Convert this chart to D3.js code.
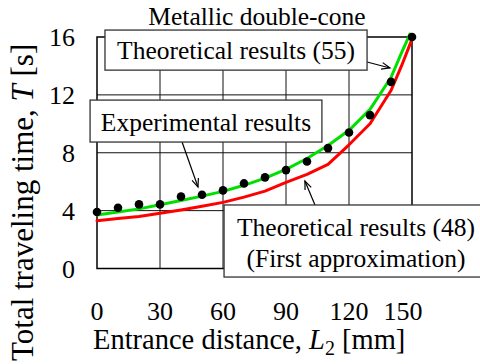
<!DOCTYPE html>
<html>
<head>
<meta charset="utf-8">
<script src="https://cdn.jsdelivr.net/npm/d3@7"></script>
<style>
  body { margin: 0; background: #fff; }
  svg { display: block; }
  svg text { font-family: 'Liberation Serif', 'DejaVu Serif', 'Times New Roman', Times, serif; }
</style>
</head>
<body>
<svg id="chart" width="480" height="364"></svg>
<script>
// measured points, entrance distance L2 [mm] vs total time T [s]
const expL2 = [0, 10, 20, 30, 40, 50, 60, 70, 80, 90, 100, 110, 120, 130, 140, 150];
const expT = [3.9, 4.2, 4.43, 4.43, 4.97, 5.1, 5.4, 5.88, 6.3, 6.8, 7.4, 8.32, 9.4, 10.6, 12.9, 16.0];

// theory (55)
const eq55L2 = [0, 10, 20, 30, 40, 50, 60, 70, 80, 90, 100, 110, 120, 130, 140, 145, 149];
const eq55T = [3.7, 3.9, 4.12, 4.4, 4.7, 5.0, 5.33, 5.75, 6.25, 6.85, 7.6, 8.5, 9.55, 11.0, 13.2, 14.9, 16.2];

// theory (48), first approximation
const eq48L2 = [0, 10, 20, 30, 40, 50, 60, 70, 80, 90, 100, 110, 120, 130, 140, 145, 150];
const eq48T = [3.3, 3.45, 3.6, 3.82, 4.05, 4.3, 4.57, 4.93, 5.35, 5.95, 6.5, 7.2, 8.55, 10.0, 12.3, 14.0, 15.85];

const xTicks = [0, 30, 60, 90, 120, 150];
const yTicks = [0, 4, 8, 12, 16];

const serif = "'Liberation Serif', 'DejaVu Serif', serif";
const svg = d3.select("#chart").attr("font-family", serif);
const pLeft = 97, pRight = 412, pTop = 37, pBottom = 268.5;

const x = d3.scaleLinear().domain([0, 150]).range([pLeft, pRight]);
const y = d3.scaleLinear().domain([0, 16]).range([pBottom, pTop]);

// grid
const grid = svg.append("g").attr("stroke", "#111").attr("stroke-width", 1);
grid.selectAll("line.v").data(xTicks.slice(1, -1)).enter().append("line")
  .attr("x1", d => x(d)).attr("x2", d => x(d)).attr("y1", pTop).attr("y2", pBottom);
grid.selectAll("line.h").data(yTicks.slice(1, -1)).enter().append("line")
  .attr("y1", d => y(d)).attr("y2", d => y(d)).attr("x1", pLeft).attr("x2", pRight);

svg.append("rect")
  .attr("x", pLeft).attr("y", pTop)
  .attr("width", pRight - pLeft).attr("height", pBottom - pTop)
  .attr("fill", "none").attr("stroke", "#000").attr("stroke-width", 1.5);

// curves
const line = d3.line().x(d => x(d[0])).y(d => y(d[1]));
svg.append("path")
  .datum(d3.zip(eq48L2, eq48T))
  .attr("d", line).attr("fill", "none")
  .attr("stroke", "#ff0000").attr("stroke-width", 3)
  .attr("stroke-linecap", "round").attr("stroke-linejoin", "round");
svg.append("path")
  .datum(d3.zip(eq55L2, eq55T))
  .attr("d", line).attr("fill", "none")
  .attr("stroke", "#00e000").attr("stroke-width", 3)
  .attr("stroke-linecap", "round").attr("stroke-linejoin", "round");

svg.selectAll("circle.exp").data(d3.zip(expL2, expT)).enter().append("circle")
  .attr("cx", d => x(d[0])).attr("cy", d => y(d[1])).attr("r", 4.3).attr("fill", "#000");

// tick labels
svg.append("g").selectAll("text").data(yTicks).enter().append("text")
  .attr("x", 75).attr("y", d => y(d)).attr("dy", "0.35em")
  .attr("text-anchor", "end").attr("font-size", 26).text(d => d);

svg.append("g").selectAll("text").data(xTicks).enter().append("text")
  .attr("x", (d, i) => x(d) - (i === xTicks.length - 1 ? 9 : 0)).attr("y", 320)
  .attr("text-anchor", "middle").attr("font-size", 26).text(d => d);

// axis titles
const xt = svg.append("text").attr("x", 93).attr("y", 349).attr("font-size", 28.5);
xt.append("tspan").text("Entrance distance, ");
xt.append("tspan").attr("font-style", "italic").text("L");
xt.append("tspan").attr("font-size", 20).attr("dy", 6).text("2");
xt.append("tspan").attr("dy", -6).text(" [mm]");

const yt = svg.append("text").attr("transform", "translate(33,361) rotate(-90)")
  .attr("text-anchor", "start").attr("font-size", 31);
yt.append("tspan").text("Total traveling time, ");
yt.append("tspan").attr("font-style", "italic").text("T");
yt.append("tspan").text(" [s]");

svg.append("text").attr("x", 257).attr("y", 25).attr("text-anchor", "middle")
  .attr("font-size", 25.5).text("Metallic double-cone");

// callouts, in data units
const callouts = [
  { box: [3.8, 128.6, 16.48, 13.71], lines: ["Theoretical results (55)"], arrow: [128.6, 14.27, 139.5, 13.86] },
  { box: [-3.3, 107.1, 11.64, 8.74], lines: ["Experimental results"], arrow: [40.5, 8.74, 48.1, 5.63] },
  { box: [60.5, 186, 4.39, -0.59], lines: ["Theoretical results (48)", "(First approximation)"], arrow: [103.8, 4.39, 99, 6.05] }
];

const arrowHead = (g, x1, y1, x2, y2) => {
  const a = Math.atan2(y2 - y1, x2 - x1), len = 9, spread = 0.38;
  g.append("path")
    .attr("d", `M${x2 - len * Math.cos(a - spread)},${y2 - len * Math.sin(a - spread)} L${x2},${y2} L${x2 - len * Math.cos(a + spread)},${y2 - len * Math.sin(a + spread)}`)
    .attr("fill", "none").attr("stroke", "#000").attr("stroke-width", 1.2);
};

callouts.forEach(c => {
  const g = svg.append("g");
  const [x0, x1, y0, y1] = [x(c.box[0]), x(c.box[1]), y(c.box[2]), y(c.box[3])];
  const ax1 = x(c.arrow[0]), ay1 = y(c.arrow[1]), ax2 = x(c.arrow[2]), ay2 = y(c.arrow[3]);
  g.append("line").attr("x1", ax1).attr("y1", ay1).attr("x2", ax2).attr("y2", ay2)
    .attr("stroke", "#000").attr("stroke-width", 1.2);
  arrowHead(g, ax1, ay1, ax2, ay2);
  g.append("rect").attr("x", x0).attr("y", y0).attr("width", x1 - x0).attr("height", y1 - y0)
    .attr("fill", "#fff").attr("stroke", "#333").attr("stroke-width", 1.3);
  const cx = c.lines.length > 1 ? 356 : (x0 + x1) / 2;
  c.lines.forEach((t, i) => {
    g.append("text").attr("x", cx)
      .attr("y", c.lines.length > 1 ? y0 + 31 + i * 30.7 : y1 - 11)
      .attr("text-anchor", "middle").attr("font-size", 25.5).text(t);
  });
});
</script>
</body>
</html>
